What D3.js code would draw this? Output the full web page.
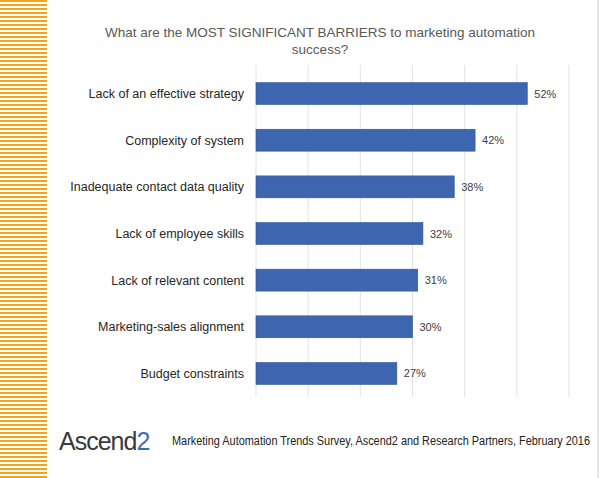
<!DOCTYPE html><html><head><script src="https://cdn.jsdelivr.net/npm/d3@7"></script>
<style>body{margin:0;background:#fff}</style></head><body><svg id="c" width="600" height="478"></svg>
<script>
const categories=["Lack of an effective strategy","Complexity of system","Inadequate contact data quality","Lack of employee skills","Lack of relevant content","Marketing-sales alignment","Budget constraints"];
const values=[52,42,38,32,31,30,27];
const ticks=[0,10,20,30,40,50,60];
const svg=d3.select("#c");
const f="'Liberation Sans',Arial,sans-serif";
const stripes=d3.range(0,478,4);
svg.selectAll(".s").data(stripes).join("rect").attr("x",0).attr("y",d=>d).attr("width",47).attr("height",2).attr("fill","#f7a21b");
svg.append("line").attr("x1",598).attr("x2",598).attr("y1",0).attr("y2",478).attr("stroke","#ccc");
const x=d3.scaleLinear().domain([0,60]).range([256,569]);
const y=d3.scaleBand().domain(categories).range([70,397]).paddingInner(0.53).paddingOuter(0.27);
svg.selectAll(".g").data(ticks).join("line").attr("x1",d=>x(d)).attr("x2",d=>x(d)).attr("y1",65).attr("y2",397).attr("stroke","#e2e2e2");
svg.selectAll(".b").data(values).join("rect").attr("x",x(0)).attr("y",(d,i)=>y(categories[i])).attr("width",d=>x(d)-x(0)).attr("height",y.bandwidth()).attr("fill","#3e66b0").attr("stroke","#2f5597").attr("stroke-width",0.6);
svg.selectAll(".v").data(values).join("text").attr("x",d=>x(d)+7).attr("y",(d,i)=>y(categories[i])+y.bandwidth()/2+4).text(d=>d+"%").attr("font-family",f).attr("font-size",11).attr("fill","#404040");
svg.selectAll(".c").data(categories).join("text").attr("x",244).attr("y",d=>y(d)+y.bandwidth()/2+4.5).attr("text-anchor","end").text(d=>d).attr("font-family",f).attr("font-size",12.5).attr("fill","#262626");
svg.append("text").attr("x",320).attr("y",37).attr("text-anchor","middle").attr("font-family",f).attr("font-size",13.5).attr("fill","#595959").text("What are the MOST SIGNIFICANT  BARRIERS to marketing automation");
svg.append("text").attr("x",320).attr("y",54).attr("text-anchor","middle").attr("font-family",f).attr("font-size",13.5).attr("fill","#595959").text("success?");
const lg=svg.append("text").attr("x",59).attr("y",450).attr("font-family",f).attr("font-size",25).attr("fill","#3a3a3a").attr("letter-spacing",-1);
lg.append("tspan").text("Ascend");lg.append("tspan").attr("fill","#3f6cb5").text("2");
svg.append("text").attr("x",172).attr("y",445).attr("font-family",f).attr("font-size",12).attr("fill","#222").attr("textLength",418).attr("lengthAdjust","spacingAndGlyphs").text("Marketing Automation Trends Survey, Ascend2 and Research Partners, February 2016");
</script></body></html>
